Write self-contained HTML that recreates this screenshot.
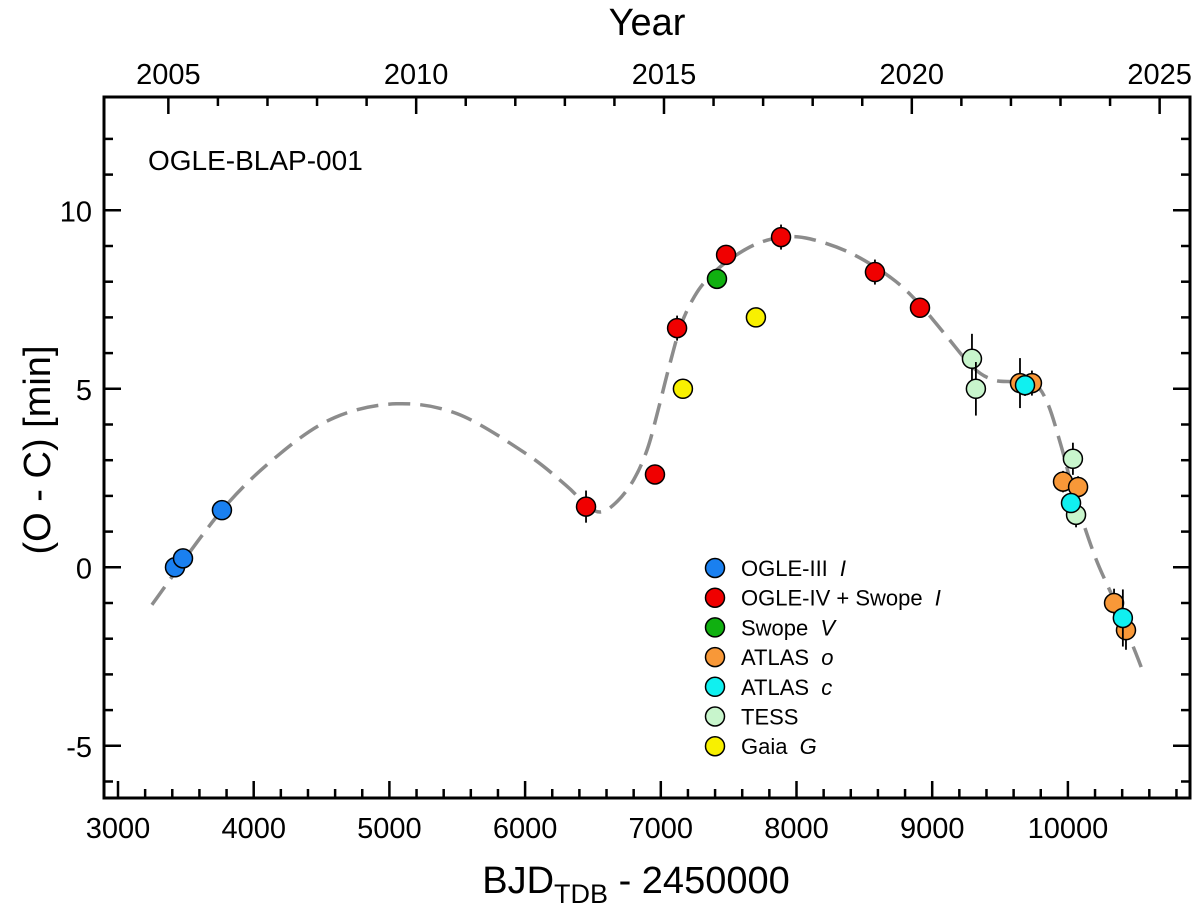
<!DOCTYPE html>
<html><head><meta charset="utf-8"><style>
body{margin:0;background:#fff}
svg{display:block;font-family:"Liberation Sans",Arial,sans-serif}
</style></head><body>
<svg id="c" width="1200" height="909" viewBox="0 0 1200 909">
<g id="axes"></g>
<path id="model" fill="none" stroke="#8c8c8c" stroke-width="3.5" stroke-dasharray="22,10"/>
<g id="pts"></g>
<g id="leg"></g>
<text x="148" y="170" font-size="28">OGLE-BLAP-001</text>
<text x="647" y="35" font-size="38" text-anchor="middle">Year</text>
<text x="636" y="893" font-size="38" text-anchor="middle">BJD<tspan font-size="27" dy="10">TDB</tspan><tspan dy="-10"> - 2450000</tspan></text>
<text transform="translate(50,450) rotate(-90)" font-size="38" text-anchor="middle">(O - C) [min]</text>
</svg>
<script>
const xTicks=[3000,4000,5000,6000,7000,8000,9000,10000];
const yTicks=[-5,0,5,10];
const yearTicks=[2005,2010,2015,2020,2025];
const series=["OGLE-III","OGLE-IV + Swope","Swope","ATLAS","ATLAS","TESS","Gaia"];
const seriesIt=["I","I","V","o","c","","G"];
const colors=["#1a80f0","#f00000","#10b010","#f89838","#10f0f0","#c8f5cc","#f8f000"];
const d0x=[3420,3479,3766], d0y=[0,0.25,1.6], d0e=[0.1,0.1,0.1];
const d1x=[6449,6957,7120,7481,7886,8578,8910], d1y=[1.7,2.6,6.7,8.75,9.25,8.27,7.27], d1e=[0.45,0.2,0.35,0.2,0.35,0.35,0.2];
const d2x=[7414], d2y=[8.08], d2e=[0.15];
const d3x=[9647,9735,9964,10075,10340,10428], d3y=[5.16,5.16,2.4,2.25,-1.0,-1.76], d3e=[0.7,0.35,0.3,0.3,0.4,0.55];
const d4x=[9684,10023,10405], d4y=[5.1,1.8,-1.42], d4e=[0.3,0.2,0.8];
const d5x=[9293,9322,10037,10060], d5y=[5.84,5.0,3.04,1.47], d5e=[0.7,0.75,0.45,0.35];
const d6x=[7163,7701], d6y=[5.0,7.0], d6e=[0.05,0.05];
const curveX=[3250,3766,4200,4600,5050,5500,6000,6300,6450,6560,6680,6800,6900,6980,7060,7150,7250,7350,7500,7700,7900,8100,8400,8700,8900,9100,9300,9450,9600,9750,9850,9950,10050,10200,10350,10500,10560];
const curveY=[-1.05,1.6,3.2,4.2,4.58,4.3,3.2,2.3,1.75,1.55,1.85,2.45,3.3,4.4,5.6,6.8,7.6,8.1,8.6,9.05,9.25,9.2,8.8,8.1,7.4,6.5,5.6,5.25,5.2,5.15,4.6,3.4,2.0,0.3,-1.0,-2.4,-3.0];
const X=v=>118+(v-3000)*0.1357, Y=v=>567.3-v*35.7;
const yearX=yr=>X(3371+(yr-2005)*365.25);
const NS="http://www.w3.org/2000/svg";
function mk(p,tag,at){const e=document.createElementNS(NS,tag);for(const k in at)e.setAttribute(k,at[k]);p.appendChild(e);return e;}
const ax=document.getElementById('axes');
const L=104,R=1190,T=97,B=798;
const fr=mk(ax,'rect',{x:L,y:T,width:R-L,height:B-T,fill:'none',stroke:'#000','stroke-width':3});

for(let v=3000;v<=10800;v+=200){const x=X(v);const big=v%1000===0;mk(ax,'line',{x1:x,x2:x,y1:B,y2:B-(big?17:9),stroke:'#000','stroke-width':2.5});}
for(let v=-6;v<=12;v++){const y=Y(v);const big=v%5===0;mk(ax,'line',{x1:L,x2:L+(big?17:9),y1:y,y2:y,stroke:'#000','stroke-width':2.5});mk(ax,'line',{x1:R,x2:R-(big?17:9),y1:y,y2:y,stroke:'#000','stroke-width':2.5});}
for(let yr=2005;yr<=2025;yr++){const x=yearX(yr);if(x>R)break;const big=yr%5===0;mk(ax,'line',{x1:x,x2:x,y1:T,y2:T+(big?17:9),stroke:'#000','stroke-width':2.5});}
xTicks.forEach(v=>{const t=mk(ax,'text',{x:X(v),y:838,'font-size':29,'text-anchor':'middle'});t.textContent=v;
});
yTicks.forEach(v=>{const t=mk(ax,'text',{x:92,y:Y(v)+11,'font-size':29,'text-anchor':'end'});t.textContent=v;
});
yearTicks.forEach(v=>{const t=mk(ax,'text',{x:yearX(v),y:84,'font-size':29,'text-anchor':'middle'});t.textContent=v;
});
const P=curveX.map((x,i)=>[X(x),Y(curveY[i])]);
let d='M'+P[0][0]+','+P[0][1];
for(let i=0;i<P.length-1;i++){const p0=P[Math.max(0,i-1)],p1=P[i],p2=P[i+1],p3=P[Math.min(P.length-1,i+2)];
d+=` C${p1[0]+(p2[0]-p0[0])/6},${p1[1]+(p2[1]-p0[1])/6} ${p2[0]-(p3[0]-p1[0])/6},${p2[1]-(p3[1]-p1[1])/6} ${p2[0]},${p2[1]}`;}
document.getElementById('model').setAttribute('d',d);
const pg=document.getElementById('pts');
const sets=[[d1x,d1y,d1e,1],[d6x,d6y,d6e,6],[d2x,d2y,d2e,2],[d5x,d5y,d5e,5],[d3x,d3y,d3e,3],[d4x,d4y,d4e,4],[d0x,d0y,d0e,0]];
sets.forEach(([xs,ys,es,ci])=>{xs.forEach((x,i)=>{
const eb=mk(pg,'line',{x1:X(x),x2:X(x),y1:Y(ys[i]+es[i]),y2:Y(ys[i]-es[i]),stroke:'#000','stroke-width':1.8});

const c=mk(pg,'circle',{cx:X(x),cy:Y(ys[i]),r:9.5,fill:colors[ci],stroke:'#000','stroke-width':1.5});
});});
const lg=document.getElementById('leg');
series.forEach((s,i)=>{const y=568+i*29.7;
const c=mk(lg,'circle',{cx:715,cy:y,r:9.5,fill:colors[i],stroke:'#000','stroke-width':1.5});

const t=mk(lg,'text',{x:741,y:y+8,'font-size':22});t.textContent=s+' ';
if(seriesIt[i]){const ts=mk(t,'tspan',{'font-style':'italic',dx:6});ts.textContent=seriesIt[i];}
});
</script>
</body></html>
